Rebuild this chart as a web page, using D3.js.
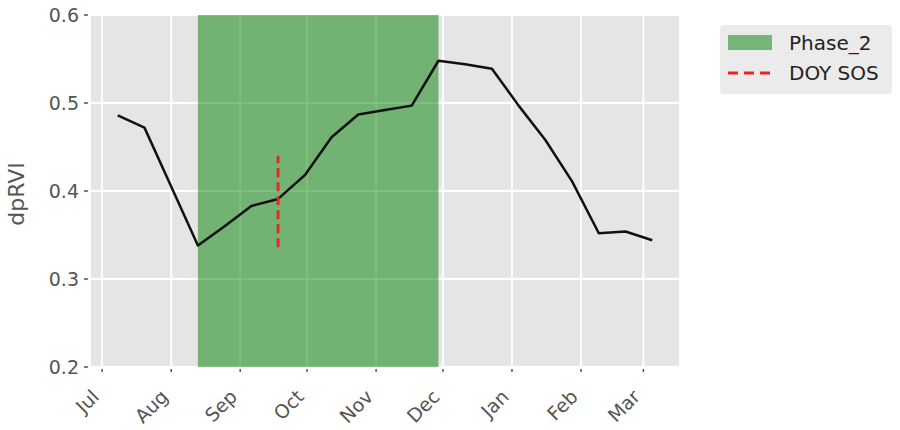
<!DOCTYPE html>
<html>
<head>
  <meta charset="utf-8">
  <title>dpRVI</title>
  <script src="https://d3js.org/d3.v7.min.js"></script>
  <style>
    body { margin: 0; background: #fff; }
    text { font-family: "DejaVu Sans", sans-serif; }
  </style>
</head>
<body>
  <div id="chart"></div>

  <script type="text/javascript">
    // acquisition dates (12-day revisit) and dpRVI values
    var dates = ['2020-07-08', '2020-07-20', '2020-08-01', '2020-08-13', '2020-08-25',
                 '2020-09-06', '2020-09-18', '2020-09-30', '2020-10-12', '2020-10-24',
                 '2020-11-05', '2020-11-17', '2020-11-29', '2020-12-11', '2020-12-23',
                 '2021-01-04', '2021-01-16', '2021-01-28', '2021-02-09', '2021-02-21',
                 '2021-03-05'];
    var dprvi = [0.486, 0.472, 0.405, 0.338, 0.360,
                 0.383, 0.391, 0.418, 0.461, 0.487,
                 0.492, 0.497, 0.548, 0.544, 0.539,
                 0.497, 0.458, 0.411, 0.352, 0.354,
                 0.344];

    // phase 2 span and start-of-season marker
    var phaseStart = '2020-08-13';
    var phaseEnd = '2020-11-29';
    var sosDate = '2020-09-18';
    var sosRange = [0.336, 0.440];

    var yTicks = [0.2, 0.3, 0.4, 0.5, 0.6];
    var legendLabels = ['Phase_2', 'DOY SOS'];

    var parse = d3.utcParse('%Y-%m-%d');

    var margin = {top: 15, right: 221, bottom: 63, left: 91};
    var width = 900 - margin.left - margin.right;
    var height = 430 - margin.top - margin.bottom;

    // matplotlib-like 5% padding on the date axis
    var ext = d3.extent(dates, function(d) { return parse(d); });
    var pad = (ext[1] - ext[0]) * 0.05;

    var x = d3.scaleUtc()
              .domain([new Date(+ext[0] - pad), new Date(+ext[1] + pad)])
              .range([0, width]);
    var y = d3.scaleLinear().domain([0.2, 0.6]).range([height, 0]);

    var xTicks = x.ticks(d3.utcMonth.every(1)).filter(function(d) {
      return x(d) >= 0 && x(d) <= width;
    });

    var svg = d3.select('#chart')
                .append('svg')
                  .attr('width', 900)
                  .attr('height', 430)
                .append('g')
                  .attr('transform', 'translate(' + margin.left + ',' + margin.top + ')');

    svg.append('rect')
       .attr('width', width)
       .attr('height', height)
       .style('fill', '#e5e5e5');

    // grid
    svg.selectAll('.vgrid')
       .data(xTicks)
       .enter()
       .append('line')
         .attr('x1', function(d) { return x(d); })
         .attr('x2', function(d) { return x(d); })
         .attr('y1', 0)
         .attr('y2', height)
         .style('stroke', '#fff')
         .style('stroke-width', 1.8);

    svg.selectAll('.hgrid')
       .data(yTicks)
       .enter()
       .append('line')
         .attr('x1', 0)
         .attr('x2', width)
         .attr('y1', function(d) { return y(d); })
         .attr('y2', function(d) { return y(d); })
         .style('stroke', '#fff')
         .style('stroke-width', 1.8);

    // phase 2 shading
    svg.append('rect')
       .attr('x', x(parse(phaseStart)))
       .attr('y', 0)
       .attr('width', x(parse(phaseEnd)) - x(parse(phaseStart)))
       .attr('height', height)
       .style('fill', '#008000')
       .style('opacity', 0.5);

    var line_function = d3.line()
                          .x(function(d, i) { return x(parse(dates[i])); })
                          .y(function(d) { return y(d); });

    svg.append('path')
       .attr('d', line_function(dprvi))
       .style('fill', 'none')
       .style('stroke', '#111')
       .style('stroke-width', 2.5)
       .style('stroke-linejoin', 'round');

    svg.append('line')
       .attr('x1', x(parse(sosDate)))
       .attr('x2', x(parse(sosDate)))
       .attr('y1', y(sosRange[0]))
       .attr('y2', y(sosRange[1]))
       .style('stroke', '#ee2222')
       .style('stroke-width', 2.8)
       .style('stroke-dasharray', '9,5');

    // y axis ticks and labels
    var yAxis = svg.append('g');
    yAxis.selectAll('line')
         .data(yTicks)
         .enter()
         .append('line')
           .attr('x1', -7)
           .attr('x2', -3)
           .attr('y1', function(d) { return y(d); })
           .attr('y2', function(d) { return y(d); })
           .style('stroke', '#555')
           .style('stroke-width', 1.5);
    yAxis.selectAll('text')
         .data(yTicks)
         .enter()
         .append('text')
           .attr('x', -12)
           .attr('y', function(d) { return y(d); })
           .attr('dy', '0.36em')
           .attr('text-anchor', 'end')
           .style('font-size', '19px')
           .style('fill', '#555')
           .text(function(d) { return d.toFixed(1); });

    // x axis ticks and labels
    var xAxis = svg.append('g');
    xAxis.selectAll('line')
         .data(xTicks)
         .enter()
         .append('line')
           .attr('x1', function(d) { return x(d); })
           .attr('x2', function(d) { return x(d); })
           .attr('y1', height + 2)
           .attr('y2', height + 5)
           .style('stroke', '#555')
           .style('stroke-width', 1.5);
    xAxis.selectAll('text')
         .data(xTicks)
         .enter()
         .append('text')
           .attr('transform', function(d) {
             return 'translate(' + (x(d) - 2) + ',' + (height + 31) + ') rotate(-45)';
           })
           .attr('text-anchor', 'end')
           .style('font-size', '19px')
           .style('fill', '#555')
           .text(function(d) { return d3.utcFormat('%b')(d); });

    svg.append('text')
       .attr('transform', 'rotate(-90)')
       .attr('x', -(height / 2) - 3)
       .attr('y', -67)
       .attr('text-anchor', 'middle')
       .style('font-size', '22px')
       .style('fill', '#555')
       .text('dpRVI');

    // legend
    var legend = svg.append('g')
                    .attr('transform', 'translate(' + (width + 41) + ',10)');
    legend.append('rect')
          .attr('width', 172)
          .attr('height', 69)
          .attr('rx', 4)
          .style('fill', '#ebebeb');
    legend.append('rect')
          .attr('x', 8)
          .attr('y', 10)
          .attr('width', 44)
          .attr('height', 15)
          .style('fill', '#008000')
          .style('opacity', 0.5);
    legend.append('line')
          .attr('x1', 8)
          .attr('x2', 52)
          .attr('y1', 48)
          .attr('y2', 48)
          .style('stroke', '#ee2222')
          .style('stroke-width', 2.8)
          .style('stroke-dasharray', '10,6');
    legend.selectAll('.ltext')
          .data(legendLabels)
          .enter()
          .append('text')
            .attr('x', 69)
            .attr('y', function(d, i) { return 18 + i * 30; })
            .attr('dy', '0.36em')
            .style('font-size', '20px')
            .style('fill', '#222')
            .text(function(d) { return d; });
  </script>
</body>
</html>
